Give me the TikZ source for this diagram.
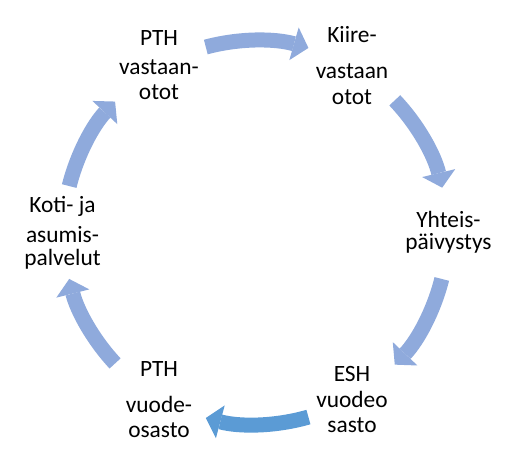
\documentclass[tikz,border=0pt]{standalone}
\usepackage{fontspec}
\setmainfont{Carlito}
\usepackage{tikz}
\usetikzlibrary{arrows.meta}

\definecolor{arrlight}{HTML}{8FAADC}
\definecolor{arrdark}{HTML}{5B9BD5}

\begin{document}
\begin{tikzpicture}[
    lbl/.style={align=center, inner sep=0pt, font=\fontsize{13.3}{14.5}\selectfont},
    cyc/.style={line width=0.3cm, -{Triangle[width=0.68cm, length=0.3cm, line width=0pt]}}
]
    \useasboundingbox (0,0) rectangle (10.16,9.32);
    \coordinate (c) at (5.11,4.67);
    % Units of the cycle
    \node[lbl] (pthvo) at ([shift={(120:3.86)}]c) {PTH\\[1.5pt]vastaan-\\otot};
    \node[lbl] (kiire) at ([shift={(60:3.86)}]c) {Kiire-\\[6pt]vastaan\\otot};
    \node[lbl] (yhteis) at ([shift={(0:3.86)}]c) {Yhteis-\\[-2pt]päivystys};
    \node[lbl] (esh) at ([shift={(-60:3.86)}]c) {ESH\\vuodeo\\sasto};
    \node[lbl] (pthvu) at ([shift={(-120:3.86)}]c) {PTH\\[6pt]vuode-\\osasto};
    \node[lbl] (koti) at ([shift={(180:3.86)}]c) {Koti- ja\\[2.5pt]asumis-\\[-1.5pt]palvelut};
    % Curved arrows between the units
    \foreach \s/\e/\col in {105/74/arrlight, 43.5/13.5/arrlight, -14/-43.5/arrlight,
                            -74/-105/arrdark, 223/194/arrlight, 166/137/arrlight}
        \draw[cyc, \col] ([shift={(\s:3.84)}]c) arc[start angle=\s, end angle=\e, radius=3.84];
\end{tikzpicture}
\end{document}
